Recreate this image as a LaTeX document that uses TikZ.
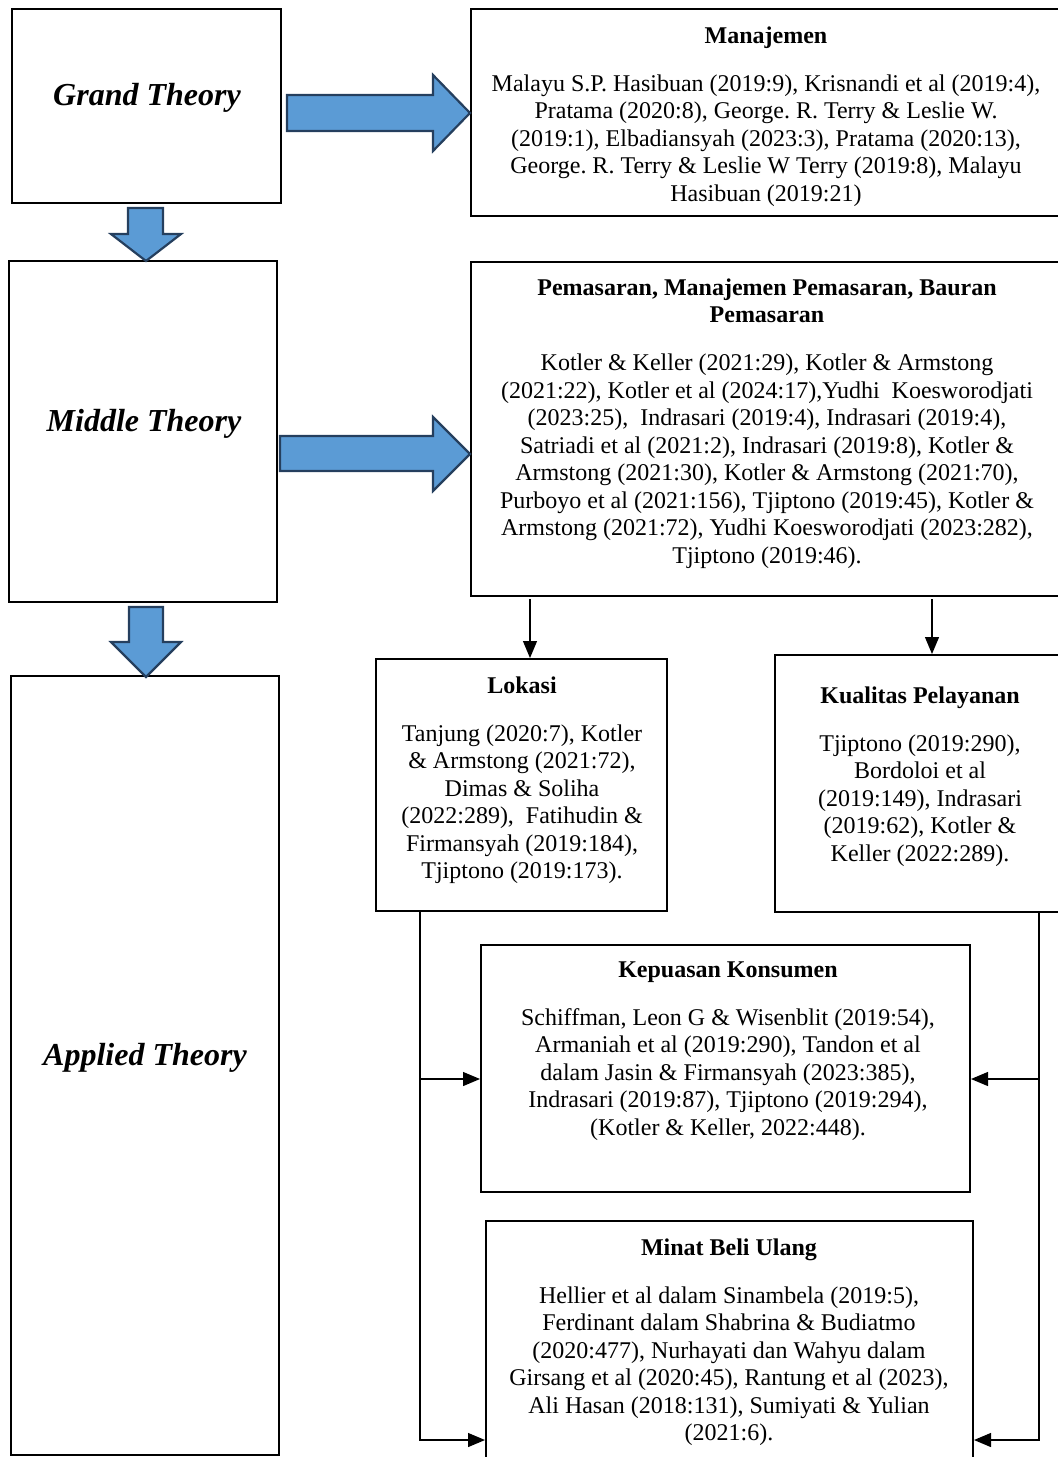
\documentclass[tikz,border=0pt]{standalone}
\usepackage{fontspec}
\setmainfont{Liberation Serif}
\usepackage{tikz}
\usetikzlibrary{arrows.meta,positioning,calc}
\frenchspacing

\definecolor{blockblue}{HTML}{5B9BD5}
\definecolor{blockedge}{HTML}{253F5E}

\begin{document}
\begin{tikzpicture}[
    x=0.5pt, y=-0.5pt,
    box/.style={draw, line width=1pt, rectangle, inner sep=0pt},
    theory/.style={font=\fontsize{16pt}{19pt}\selectfont\bfseries\itshape},
    txt/.style={align=center, inner sep=0pt, anchor=north, font=\fontsize{12pt}{13.75pt}\selectfont},
    link/.style={-{Triangle[length=8.5pt, width=7pt]}, line width=0.6pt},
    block/.style={fill=blockblue, draw=blockedge, line width=1.1pt, line join=miter}
]
\useasboundingbox (0,0) rectangle (1057,1457);

% Theory levels (left column)
\node[box, minimum width=134.5pt, minimum height=97pt] (grand) at (146.5,106) {};
\node[box, minimum width=134pt, minimum height=170.5pt] (middle) at (143,431.5) {};
\node[box, minimum width=134pt, minimum height=389.5pt] (applied) at (145,1065.5) {};
\node[theory] (grandtxt) at (147,98) {Grand Theory};
\node[theory] (middletxt) at (144,424) {Middle Theory};
\node[theory] (appliedtxt) at (145,1058) {Applied Theory};

% Reference boxes (right side)
\node[box, minimum width=298pt, minimum height=103.5pt] (manaj) at (769,112.5) {};
\node[box, minimum width=298pt, minimum height=167pt] (pemas) at (769,429) {};
\node[box, minimum width=145.5pt, minimum height=126pt] (lokasi) at (521.5,785) {};
\node[box, minimum width=146pt, minimum height=128.5pt] (kual) at (921,783.5) {};
\node[box, minimum width=244.5pt, minimum height=123.5pt] (kepuasan) at (725.5,1068.5) {};
\node[box, minimum width=243.5pt, minimum height=124.5pt] (minat) at (729.5,1345.5) {};

\node[txt] (manajtxt) at (766,26) {\textbf{Manajemen}\\[10.25pt]
  Malayu S.P. Hasibuan (2019:9), Krisnandi et al (2019:4),\\
  Pratama (2020:8), George. R. Terry \& Leslie W.\\
  (2019:1), Elbadiansyah (2023:3), Pratama (2020:13),\\
  George. R. Terry \& Leslie W Terry (2019:8), Malayu\\
  Hasibuan (2019:21)};

\node[txt] (pemastxt) at (767,278) {\textbf{Pemasaran, Manajemen Pemasaran, Bauran}\\
  \textbf{Pemasaran}\\[10.25pt]
  Kotler \& Keller (2021:29), Kotler \& Armstong\\
  (2021:22), Kotler et al (2024:17),Yudhi~~Koesworodjati\\
  (2023:25),~~Indrasari (2019:4), Indrasari (2019:4),\\
  Satriadi et al (2021:2), Indrasari (2019:8), Kotler \&\\
  Armstong (2021:30), Kotler \& Armstong (2021:70),\\
  Purboyo et al (2021:156), Tjiptono (2019:45), Kotler \&\\
  Armstong (2021:72), Yudhi Koesworodjati (2023:282),\\
  Tjiptono (2019:46).};

\node[txt] (lokasitxt) at (522,676) {\textbf{Lokasi}\\[10.25pt]
  Tanjung (2020:7), Kotler\\
  \& Armstong (2021:72),\\
  Dimas \& Soliha\\
  (2022:289),~~Fatihudin \&\\
  Firmansyah (2019:184),\\
  Tjiptono (2019:173).};

\node[txt] (kualtxt) at (920,686) {\textbf{Kualitas Pelayanan}\\[10.25pt]
  Tjiptono (2019:290),\\
  Bordoloi et al\\
  (2019:149), Indrasari\\
  (2019:62), Kotler \&\\
  Keller (2022:289).};

\node[txt] (kepuasantxt) at (728,961) {\textbf{Kepuasan Konsumen}\\[10.25pt]
  Schiffman, Leon G \& Wisenblit (2019:54),\\
  Armaniah et al (2019:290), Tandon et al\\
  dalam Jasin \& Firmansyah (2023:385),\\
  Indrasari (2019:87), Tjiptono (2019:294),\\
  (Kotler \& Keller, 2022:448).};

\node[txt] (minattxt) at (729,1238) {\textbf{Minat Beli Ulang}\\[10.25pt]
  Hellier et al dalam Sinambela (2019:5),\\
  Ferdinant dalam Shabrina \& Budiatmo\\
  (2020:477), Nurhayati dan Wahyu dalam\\
  Girsang et al (2020:45), Rantung et al (2023),\\
  Ali Hasan (2018:131), Sumiyati \& Yulian\\
  (2021:6).};

% Block arrows
\draw[block] (287,95) -- (433,95) -- (433,75) -- (470,113) -- (433,151) -- (433,131) -- (287,131) -- cycle;
\draw[block] (280,436) -- (433,436) -- (433,417) -- (470,454) -- (433,491) -- (433,471) -- (280,471) -- cycle;
\draw[block] (128,208) -- (163,208) -- (163,234) -- (181,234) -- (146,261) -- (111,234) -- (128,234) -- cycle;
\draw[block] (129,607) -- (163,607) -- (163,642) -- (181,642) -- (146,677) -- (111,642) -- (129,642) -- cycle;

% Thin connectors
\draw[link] ([xshift=-119.5pt, yshift=-1pt]pemas.south) -- ([xshift=4.25pt]lokasi.north);
\draw[link] ([xshift=81.5pt, yshift=-1pt]pemas.south) -- ([xshift=5.5pt]kual.north);
\draw[link] ([xshift=-50.75pt]lokasi.south) |- ([yshift=-5.25pt]kepuasan.west);
\draw[link] ([xshift=-50.75pt]lokasi.south) |- ([yshift=-47.25pt]minat.west);
\draw[link] ([xshift=59pt]kual.south) |- ([yshift=-5.25pt]kepuasan.east);
\draw[link] ([xshift=59pt]kual.south) |- ([yshift=-47.25pt]minat.east);

\end{tikzpicture}
\end{document}
